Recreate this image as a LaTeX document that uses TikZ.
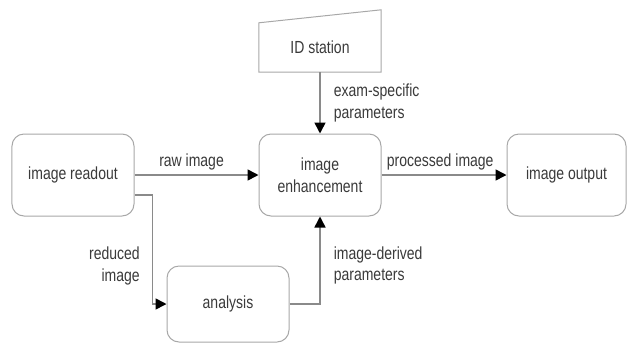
\documentclass[tikz,border=0pt]{standalone}
\usepackage{fontspec}
\setmainfont[FakeStretch=0.8]{Liberation Sans}
\usetikzlibrary{arrows.meta,calc}
\definecolor{boxgray}{HTML}{A8A8A8}
\definecolor{linegray}{HTML}{8A8A8A}
\definecolor{txtgray}{HTML}{3A3A3A}
\begin{document}
\begin{tikzpicture}[x=1bp,y=-1bp,
  every node/.style={text=txtgray,font=\fontsize{17.5bp}{21.5bp}\selectfont},
  blockbox/.style={draw=boxgray,line width=1bp,rounded corners=12bp,
    minimum width=122bp,minimum height=82bp,inner sep=0pt,align=center},
  conn/.style={draw=linegray,line width=1.6bp,
    -{Triangle[length=11bp,width=11bp,color=black]}},
  lbl/.style={inner sep=0pt,align=left}
]
\useasboundingbox (0,0) rectangle (627,343);
\node[blockbox] (ro) at (73,175) {image readout};
\node[blockbox] (enh) at (320,175) {image\\enhancement};
\node[blockbox,minimum width=119bp] (out) at (566.5,175) {image output};
\node[blockbox,minimum height=76bp] (an) at (228,304) {analysis};
\node[inner sep=0pt,minimum width=122bp,minimum height=49bp] (id) at (320,47.5) {ID station};
\draw[boxgray,line width=1bp] (id.south west) -- (id.south east) -- ([yshift=13bp]id.north east) -- (id.north west) -- cycle;

\draw[conn] (ro.east) -- node[pos=0.46,above=4bp,inner sep=0pt] {raw image} (enh.west);
\draw[conn] (enh.east) -- node[pos=0.47,above=4bp,inner sep=0pt] {processed image} (out.west);
\draw[conn] (id.south) -- node[lbl,anchor=west,xshift=13bp] {exam-specific\\parameters} (enh.north);
\draw[conn] ([yshift=-20bp]ro.east) -- ++(18,0) coordinate (c1)
  -- node[lbl,align=right,anchor=east,xshift=-12bp,pos=0.65] {reduced\\image} (c1 |- an.west) -- (an.west);
\draw[conn] (an.east) -| node[lbl,anchor=west,xshift=13bp,pos=0.72] {image-derived\\parameters} (enh.south);
\end{tikzpicture}
\end{document}
